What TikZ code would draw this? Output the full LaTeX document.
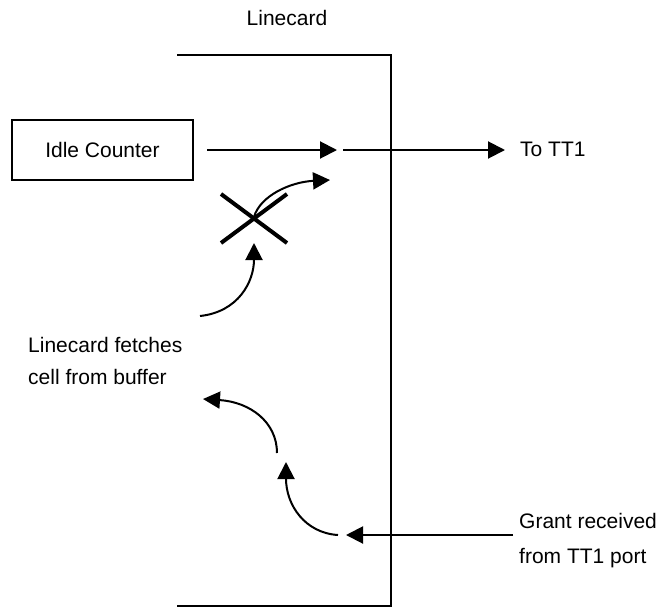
\documentclass[tikz,border=0pt]{standalone}
\usepackage{fontspec}
\setmainfont{Liberation Sans}
\usetikzlibrary{arrows.meta}
\begin{document}
\begin{tikzpicture}[x=1pt,y=-1pt,
  line/.style={line width=2pt},
  arr/.style={line width=2pt,-{Triangle[length=17pt,width=17pt]}},
  lbl/.style={font=\fontsize{21}{32}\selectfont, inner sep=0pt, align=left}]
\useasboundingbox (0,0) rectangle (660,613);
\node[lbl] (title) at (287,18) {Linecard};
% bracket
\coordinate (bt) at (177,55);
\coordinate (bc) at (391,55);
\coordinate (bd) at (391,606);
\coordinate (bb) at (177,606);
\draw[line, line join=miter] (bt) -- (bc) -- (bd) -- (bb);
% idle counter
\node[draw, line width=2pt, minimum width=181pt, minimum height=60pt, font=\fontsize{21}{24}\selectfont] (idle) at (102.5,150) {Idle Counter\hspace{8pt}};
\coordinate (a1s) at (207,150);
\coordinate (a1e) at (337,150);
\coordinate (a2s) at (343,150);
\coordinate (a2e) at (505,150);
\draw[arr] (a1s) -- (a1e);
\draw[arr] (a2s) -- (a2e);
\node[lbl, anchor=west] (tt1) at (520,149) {To TT1};
% X mark
\coordinate (x1) at (221,194);
\coordinate (x2) at (287,243);
\coordinate (x3) at (221,243);
\coordinate (x4) at (287,194);
\draw[line width=4pt] (x1) -- (x2);
\draw[line width=4pt] (x3) -- (x4);
% curve through X
\coordinate (c1s) at (254,217);
\coordinate (c1e) at (330,180);
\draw[arr] (c1s) .. controls (260,196) and (290,182) .. (c1e);
\coordinate (c2s) at (200,316);
\coordinate (c2e) at (254,243);
\draw[arr] (c2s) .. controls (238,312) and (254,282) .. (c2e);
\node[lbl, anchor=west] (fetch) at (28,361) {Linecard fetches\\cell from buffer};
% lower
\coordinate (g1s) at (513,535);
\coordinate (g1e) at (346,535);
\draw[arr] (g1s) -- (g1e);
\coordinate (c3s) at (338,535);
\coordinate (c3e) at (286,462);
\draw[arr] (c3s) .. controls (305,533) and (286,505) .. (c3e);
\coordinate (c4s) at (277,453);
\coordinate (c4e) at (203,399);
\draw[arr] (c4s) .. controls (277,422) and (250,402) .. (c4e);
\node[lbl, anchor=west, font=\fontsize{21}{35}\selectfont] (grant) at (519,541) {Grant received\\from TT1 port};
\end{tikzpicture}
\end{document}
